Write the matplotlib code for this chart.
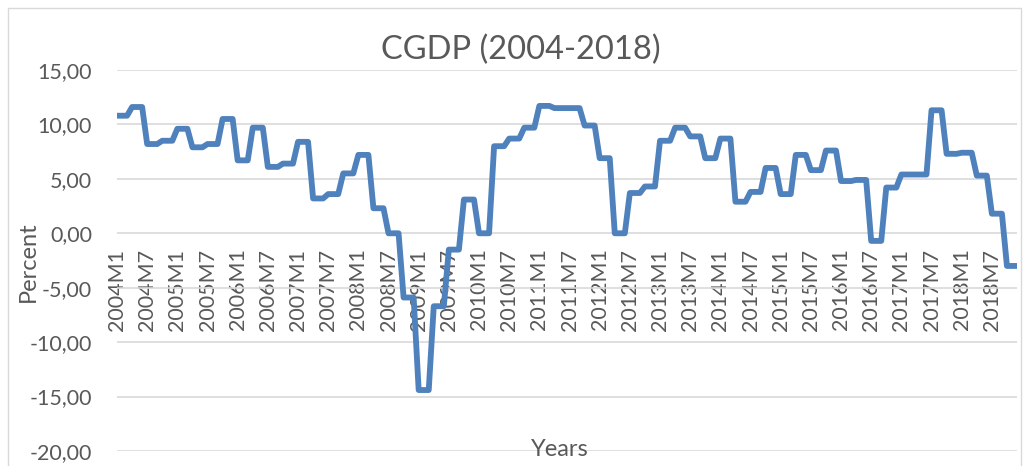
import matplotlib.pyplot as plt
import numpy as np
from matplotlib.patches import Rectangle

# quarterly CGDP growth (%), Excel sheet holds each value for 3 months
years = list(range(2004, 2019))
cgdp_q = [
    10.8, 11.6, 8.2, 8.5,    # 2004
    9.6, 7.9, 8.2, 10.5,     # 2005
    6.7, 9.7, 6.1, 6.4,      # 2006
    8.4, 3.2, 3.6, 5.5,      # 2007
    7.2, 2.3, 0.0, -5.9,     # 2008
    -14.4, -6.7, -1.5, 3.1,  # 2009
    0.0, 8.0, 8.7, 9.7,      # 2010
    11.7, 11.5, 11.5, 9.9,   # 2011
    6.9, 0.0, 3.7, 4.3,      # 2012
    8.5, 9.7, 8.9, 6.9,      # 2013
    8.7, 2.9, 3.8, 6.0,      # 2014
    3.6, 7.2, 5.8, 7.6,      # 2015
    4.8, 4.9, -0.7, 4.2,     # 2016
    5.4, 5.4, 11.3, 7.3,     # 2017
    7.4, 5.3, 1.8, -3.0,     # 2018
]
months_per_q = 3
tick_labels = [f"{y}M{m}" for y in years for m in (1, 7)]

cgdp = np.repeat(cgdp_q, months_per_q)
x = np.arange(len(cgdp))

W, H = 1029, 466
fig = plt.figure(figsize=(W / 100, H / 100), dpi=100)
plt.rcParams['font.family'] = ['Lato', 'DejaVu Sans']
txt = '#595959'

ax = fig.add_axes([117 / W, (H - 451) / H, 900 / W, 381 / H])
ax.plot(x, cgdp, color='#4F81BD', lw=4.2, solid_joinstyle='round', solid_capstyle='round', zorder=3)

# x axis crosses at 0, labels hang just below it
ax.spines['bottom'].set_position(('data', 0))
for s in ax.spines.values():
    s.set_visible(False)

ax.set_xlim(0, len(cgdp) - 1)
ax.set_ylim(-20, 15)
ax.set_yticks(np.arange(-20, 16, 5))
ax.set_yticklabels([f"{v:.2f}".replace('.', ',') for v in np.arange(-20, 16, 5)])
ax.yaxis.grid(True, color='#D9D9D9', lw=1.2)
ax.set_axisbelow(True)

ax.set_xticks(x[::6])
ax.set_xticklabels(tick_labels)
ax.tick_params(axis='x', length=0, pad=11, labelsize=15.5, labelcolor=txt, labelrotation=90)
ax.tick_params(axis='y', length=0, pad=18, labelsize=15.5, labelcolor=txt)

fig.text(521 / W, 1 - 50 / H, 'CGDP (2004-2018)', ha='center', va='center', fontsize=23.5, color=txt)
fig.text(28 / W, 1 - 262 / H, 'Percent', rotation=90, ha='center', va='center', fontsize=17, color=txt)
fig.text(560 / W, 1 - 450 / H, 'Years', ha='center', va='center', fontsize=17, color=txt)

fig.patches.append(Rectangle((8 / W, -0.05), (W - 16) / W, 1 - 8 / H + 0.05, transform=fig.transFigure,
                             fill=False, edgecolor='#D9D9D9', lw=1))

fig.savefig('out.png', dpi=100)
